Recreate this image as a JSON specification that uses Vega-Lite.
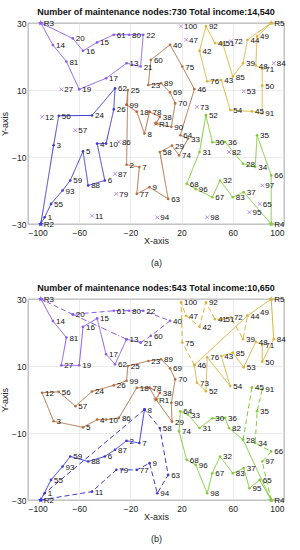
{
"$schema":"https://vega.github.io/schema/vega-lite/v6.json",
"padding":{"left":0,"top":7,"right":2,"bottom":0},
"spacing":15,
"config":{"font":"Liberation Sans","view":{"stroke":"#333","strokeWidth":0.8},
"axis":{"labelFont":"Liberation Sans","labelFontSize":8.5,"labelColor":"#222","titleFont":"Liberation Sans","titleFontSize":9,"titleFontWeight":"normal","titleColor":"#222","gridColor":"#e3e3e3","gridWidth":0.7,"domain":false,"ticks":false},
"title":{"font":"Liberation Sans","fontSize":9,"fontWeight":"bold","color":"#111","offset":2,"frame":"group"}},
"datasets":{
"nodes":[
{"id":"1","x":-87,"y":-28},{"id":"2","x":-23,"y":-12.3},{"id":"3","x":-80,"y":-6.5},{"id":"4","x":-46,"y":-6},{"id":"5","x":-57,"y":-8.3},
{"id":"6","x":-40,"y":-17},{"id":"7","x":-13,"y":-13},{"id":"8","x":-9,"y":-3},{"id":"9","x":-5,"y":-19},{"id":"10","x":-39,"y":-6},
{"id":"11","x":-50,"y":-27.5},{"id":"12","x":-89,"y":2},{"id":"13","x":-23,"y":18},{"id":"14","x":-80.5,"y":23.4},{"id":"15","x":-46,"y":24.2},
{"id":"16","x":-57,"y":21.7},{"id":"17","x":-39,"y":13.5},{"id":"18","x":-15,"y":3.5},{"id":"19","x":-60,"y":10.2},{"id":"20","x":-65,"y":25.4},
{"id":"21","x":-12,"y":17},{"id":"22","x":-10,"y":26.5},{"id":"23","x":-6,"y":11.5},{"id":"24","x":-50,"y":2.4},{"id":"25","x":-22,"y":10},
{"id":"26","x":-33,"y":4.2},{"id":"27","x":-74,"y":10.2},{"id":"28","x":68,"y":-12},{"id":"29","x":12.5,"y":-6.6},{"id":"30","x":44,"y":-5.6},
{"id":"31","x":34,"y":-8.5},{"id":"32","x":50,"y":-17},{"id":"33","x":25,"y":-4.5},{"id":"34","x":77.5,"y":-13},{"id":"35","x":79,"y":-3.5},
{"id":"36","x":54,"y":-5.5},{"id":"37","x":68.5,"y":-20.5},{"id":"38","x":3,"y":2},{"id":"39","x":68,"y":18},{"id":"40","x":11,"y":23.5},
{"id":"41","x":46,"y":24},{"id":"42","x":34,"y":21.7},{"id":"43","x":51,"y":13},{"id":"44","x":71.5,"y":25},{"id":"45","x":75,"y":3.6},
{"id":"46","x":30,"y":10.3},{"id":"47","x":23.5,"y":25},{"id":"48","x":78,"y":17.3},{"id":"49","x":79,"y":26},{"id":"50","x":83,"y":11.3},
{"id":"51","x":52,"y":24},{"id":"52","x":39,"y":2.5},{"id":"53","x":68.5,"y":9.6},{"id":"54","x":58,"y":4},{"id":"55","x":-82,"y":-24},
{"id":"56","x":-76,"y":2.3},{"id":"57","x":-63,"y":-2},{"id":"58","x":3,"y":-8.5},{"id":"59","x":-67,"y":-17},{"id":"60","x":-4,"y":19},
{"id":"61","x":-33,"y":26.5},{"id":"62","x":-32,"y":10.5},{"id":"63","x":9.5,"y":-22.5},{"id":"64","x":19,"y":-3.5},{"id":"65","x":81,"y":-24},
{"id":"66","x":90,"y":-15.5},{"id":"67","x":44,"y":-22},{"id":"68","x":24,"y":-18},{"id":"69","x":11,"y":9.3},{"id":"70","x":15,"y":6},
{"id":"71","x":83,"y":16.3},{"id":"72","x":58.5,"y":24.5},{"id":"73","x":32,"y":5},{"id":"74","x":18,"y":-9.5},{"id":"75","x":20.5,"y":17},
{"id":"76","x":40,"y":12.6},{"id":"77","x":-15,"y":-21},{"id":"78","x":-5,"y":3.5},{"id":"79","x":-31,"y":-21},{"id":"80","x":-21,"y":26.5},
{"id":"81","x":-70,"y":18.5},{"id":"82","x":57,"y":-8.5},{"id":"83","x":60,"y":-22},{"id":"84","x":92,"y":18},{"id":"85","x":60,"y":14},
{"id":"86","x":-29,"y":-5.5},{"id":"87","x":-32,"y":-15},{"id":"88","x":-53,"y":-18.5},{"id":"89","x":4,"y":12},{"id":"90","x":12,"y":-1},
{"id":"91","x":83,"y":3},{"id":"92","x":39,"y":29},{"id":"93","x":-73,"y":-20},{"id":"94","x":1,"y":-28},{"id":"95","x":73,"y":-26.5},
{"id":"96","x":31,"y":-19.5},{"id":"97","x":83,"y":-18.5},{"id":"98","x":40,"y":-28},{"id":"99","x":-23,"y":5.6},{"id":"100","x":19.5,"y":29},
{"id":"R1","x":0,"y":0},{"id":"R2","x":-90,"y":-30},{"id":"R3","x":-90,"y":30},{"id":"R4","x":90,"y":-30},{"id":"R5","x":90,"y":30}
],
"depots":[{"id":"R1","g":"brown"},{"id":"R2","g":"blue"},{"id":"R3","g":"purple"},{"id":"R4","g":"green"},{"id":"R5","g":"gold"}],
"unvisitedA":[{"id":"12"},{"id":"27"},{"id":"57"},{"id":"86"},{"id":"87"},{"id":"79"},{"id":"11"},{"id":"94"},{"id":"98"},{"id":"95"},{"id":"65"},{"id":"97"},{"id":"82"},{"id":"73"},{"id":"53"},{"id":"84"},{"id":"72"},{"id":"47"},{"id":"100"}],
"routesA":[
{"r":"p","g":"purple","s":"solid","n":["R3","14","81","19","17","13","21","22","80","61","15","16","20","R3"]},
{"r":"b","g":"blue","s":"solid","n":["R2","1","55","93","59","5","88","6","4","10","26","62","24","56","3","R2"]},
{"r":"br","g":"brown","s":"solid","n":["R1","90","70","69","89","23","60","40","75","46","64","33","74","29","58","63","9","77","7","2","25","99"]},
{"r":"rd","g":"red","s":"solid","n":["99","18"]},
{"r":"br2","g":"brown","s":"solid","n":["18","8","78"]},
{"r":"rd2","g":"red","s":"solid","n":["78","38","R1"]},
{"r":"gr","g":"green","s":"solid","n":["R4","37","83","32","67","96","68","31","52","30","36","28","34","35","66","R4"]},
{"r":"go","g":"gold","s":"solid","n":["R5","44","39","85","51","41","92","42","76","43","54","45","91","50","71","48","49","R5"]}
],
"routesB":[
{"r":"p1","g":"purple","s":"solid","n":["R3","14","81","27","19","16","15","17","62","13","21"]},
{"r":"p2","g":"purple","s":"dashed","n":["21","60","40","22","80","61","20","R3"]},
{"r":"p3","g":"purple","s":"dashdot","n":["13","20"]},
{"r":"b1","g":"blue","s":"solid","n":["R2","55","93","59","88","6","87","2","7","8"]},
{"r":"b2","g":"blue","s":"dashed","n":["8","1","R2"]},
{"r":"b3","g":"blue","s":"dashed","n":["R2","11","79","77","9","94","63","58","8"]},
{"r":"br","g":"brown","s":"solid","n":["R1","78","18","86","10","4","5","3","12","56","57","24","26","99","25","23","89","69","70","90","29","R1"]},
{"r":"rd","g":"red","s":"dashdot","n":["78","38","R1"]},
{"r":"g1","g":"green","s":"solid","n":["R4","65","95","37","83","32","67","98","96","68","74","64","33","31","30","36","82","28","R4"]},
{"r":"g2","g":"green","s":"dashed","n":["R4","97","66","34","35","91","45","28"]},
{"r":"y1","g":"gold","s":"solid","n":["R5","84","50","71","48","53","85","43","54","76","52","73","46","44","R5"]},
{"r":"y2","g":"gold","s":"dashed","n":["46","75","100","47","42","92","41","51","72","39","44"]}
]
},
"vconcat":[
{
"title":"Number of maintenance nodes:730  Total income:14,540",
"width":256,"height":201,
"layer":[
{"data":{"name":"routesA"},"transform":[{"flatten":["n"],"index":["i"]},{"lookup":"n","from":{"data":{"name":"nodes"},"key":"id","fields":["x","y"]}}],
"mark":{"type":"line","strokeWidth":1,"point":{"filled":true,"size":7}},
"encoding":{"x":{"field":"x","type":"quantitative","scale":{"domain":[-100,100],"nice":false},"axis":{"values":[-100,-80,-60,-40,-20,0,20,40,60,80,100],"title":["X-axis","(a)"],"labelPadding":4,"titlePadding":0,"titleLineHeight":22}},
"y":{"field":"y","type":"quantitative","scale":{"domain":[-30,30],"nice":false},"axis":{"values":[-30,-20,-10,0,10,20,30],"title":"Y-axis","labelPadding":2,"titlePadding":2}},
"detail":{"field":"r","type":"nominal"},"order":{"field":"i","type":"quantitative"},
"color":{"field":"g","type":"nominal","legend":null,"scale":{"domain":["purple","blue","brown","green","gold","red"],"range":["#8a5cf0","#3b3bd8","#b36f42","#7fcd3a","#dcb43a","#d0503c"]}},
"strokeDash":{"field":"s","type":"nominal","legend":null,"scale":{"domain":["solid","dashed","dashdot"],"range":[[1,0],[5,3],[6,2,1,2]]}}}},
{"data":{"name":"unvisitedA"},"transform":[{"lookup":"id","from":{"data":{"name":"nodes"},"key":"id","fields":["x","y"]}}],
"mark":{"type":"point","shape":"M-1,-1L1,1M-1,1L1,-1","size":14,"strokeWidth":1,"color":"#9a5cf5","filled":false},
"encoding":{"x":{"field":"x","type":"quantitative"},"y":{"field":"y","type":"quantitative"}}},
{"data":{"name":"depots"},"transform":[{"lookup":"id","from":{"data":{"name":"nodes"},"key":"id","fields":["x","y"]}}],
"mark":{"type":"point","shape":"M0,-1L0.225,-0.309L0.951,-0.309L0.363,0.118L0.588,0.809L0,0.382L-0.588,0.809L-0.363,0.118L-0.951,-0.309L-0.225,-0.309Z","size":40,"filled":true,"opacity":1},
"encoding":{"x":{"field":"x","type":"quantitative"},"y":{"field":"y","type":"quantitative"},"color":{"field":"g","type":"nominal","legend":null}}},
{"data":{"name":"nodes"},
"mark":{"type":"text","align":"left","baseline":"middle","dx":3,"dy":1,"fontSize":8,"font":"Liberation Sans","color":"#111"},
"encoding":{"x":{"field":"x","type":"quantitative"},"y":{"field":"y","type":"quantitative"},"text":{"field":"id","type":"nominal"}}}
]},
{
"title":"Number of maintenance nodes:543  Total income:10,650",
"width":256,"height":201,
"layer":[
{"data":{"name":"routesB"},"transform":[{"flatten":["n"],"index":["i"]},{"lookup":"n","from":{"data":{"name":"nodes"},"key":"id","fields":["x","y"]}}],
"mark":{"type":"line","strokeWidth":1,"point":{"filled":true,"size":7}},
"encoding":{"x":{"field":"x","type":"quantitative","scale":{"domain":[-100,100],"nice":false},"axis":{"values":[-100,-80,-60,-40,-20,0,20,40,60,80,100],"title":["X-axis","(b)"],"labelPadding":4,"titlePadding":0,"titleLineHeight":22}},
"y":{"field":"y","type":"quantitative","scale":{"domain":[-30,30],"nice":false},"axis":{"values":[-30,-20,-10,0,10,20,30],"title":"Y-axis","labelPadding":2,"titlePadding":2}},
"detail":{"field":"r","type":"nominal"},"order":{"field":"i","type":"quantitative"},
"color":{"field":"g","type":"nominal","legend":null,"scale":{"domain":["purple","blue","brown","green","gold","red"],"range":["#8a5cf0","#3b3bd8","#b36f42","#7fcd3a","#dcb43a","#d0503c"]}},
"strokeDash":{"field":"s","type":"nominal","legend":null,"scale":{"domain":["solid","dashed","dashdot"],"range":[[1,0],[5,3],[6,2,1,2]]}}}},
{"data":{"name":"depots"},"transform":[{"lookup":"id","from":{"data":{"name":"nodes"},"key":"id","fields":["x","y"]}}],
"mark":{"type":"point","shape":"M0,-1L0.225,-0.309L0.951,-0.309L0.363,0.118L0.588,0.809L0,0.382L-0.588,0.809L-0.363,0.118L-0.951,-0.309L-0.225,-0.309Z","size":40,"filled":true,"opacity":1},
"encoding":{"x":{"field":"x","type":"quantitative"},"y":{"field":"y","type":"quantitative"},"color":{"field":"g","type":"nominal","legend":null}}},
{"data":{"name":"nodes"},
"mark":{"type":"text","align":"left","baseline":"middle","dx":3,"dy":1,"fontSize":8,"font":"Liberation Sans","color":"#111"},
"encoding":{"x":{"field":"x","type":"quantitative"},"y":{"field":"y","type":"quantitative"},"text":{"field":"id","type":"nominal"}}}
]}
]
}
